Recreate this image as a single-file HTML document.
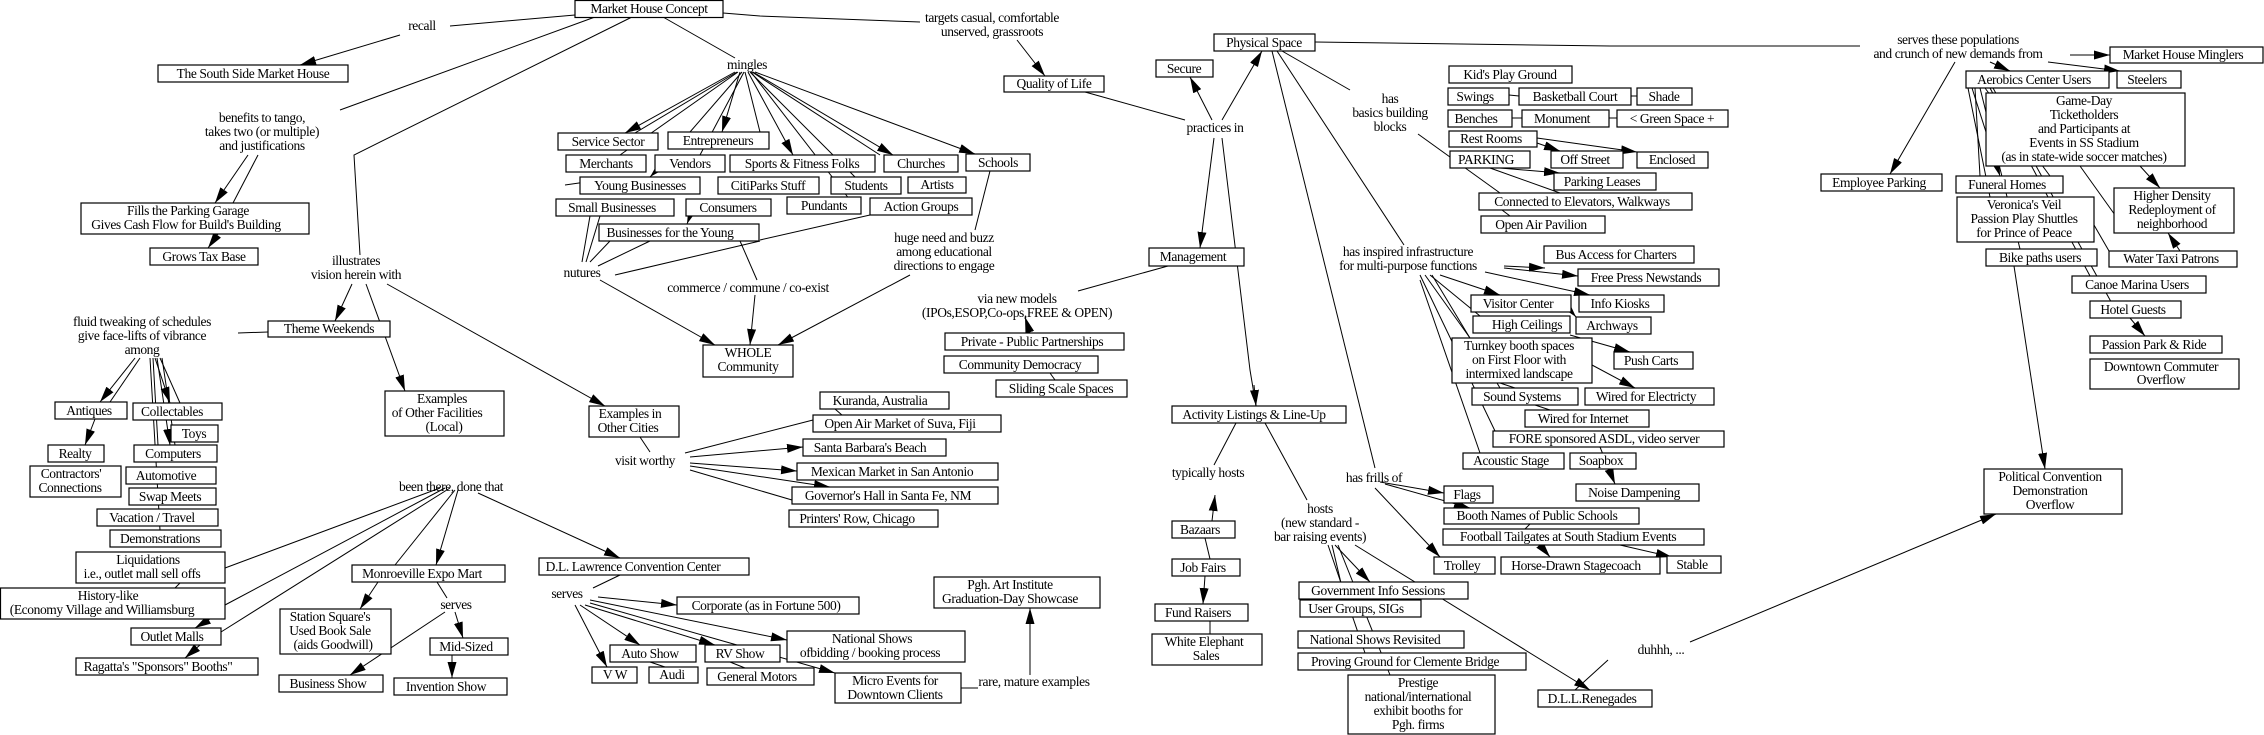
<!DOCTYPE html>
<html><head><meta charset="utf-8"><style>
html,body{margin:0;padding:0;background:#fff;}
svg{display:block;}
rect{fill:#fff;stroke:#000;stroke-width:1.2;}
line,polyline{stroke:#000;stroke-width:1;fill:none;}
text{font-family:"Liberation Serif",serif;font-size:13.5px;fill:#000;text-anchor:middle;letter-spacing:-0.4px;}
</style></head><body>
<svg width="2264" height="735" viewBox="0 0 2264 735" xmlns="http://www.w3.org/2000/svg">
<defs><marker id="a" markerWidth="16" markerHeight="9" refX="16" refY="4.5" orient="auto" markerUnits="userSpaceOnUse"><path d="M0,0L16,4.5L0,9z" fill="#000"/></marker></defs>

<!-- ===== EDGES ===== -->
<g>
<line x1="575" y1="15" x2="450" y2="26"/>
<line x1="400" y1="35" x2="300" y2="65" marker-end="url(#a)"/>
<line x1="595" y1="17" x2="340" y2="110"/>
<line x1="248" y1="155" x2="215" y2="203" marker-end="url(#a)"/>
<line x1="258" y1="155" x2="233" y2="203"/>
<line x1="218" y1="234" x2="208" y2="248" marker-end="url(#a)"/>
<polyline points="632,17 354,155 360,255"/>
<line x1="352" y1="284" x2="335" y2="321" marker-end="url(#a)"/>
<line x1="366" y1="284" x2="405" y2="391" marker-end="url(#a)"/>
<line x1="387" y1="284" x2="605" y2="406" marker-end="url(#a)"/>
<line x1="268" y1="332" x2="238" y2="333"/>
<line x1="135" y1="358" x2="100" y2="402" marker-end="url(#a)"/>
<line x1="140" y1="358" x2="110" y2="402"/>
<line x1="155" y1="358" x2="170" y2="403" marker-end="url(#a)"/>
<line x1="160" y1="358" x2="180" y2="403"/>
<line x1="153" y1="358" x2="158" y2="445"/>
<line x1="157" y1="358" x2="170" y2="445" marker-end="url(#a)"/>
<line x1="162" y1="358" x2="175" y2="445"/>
<line x1="150" y1="358" x2="160" y2="530"/>
<line x1="95" y1="419" x2="85" y2="445" marker-end="url(#a)"/>
<line x1="663" y1="17" x2="735" y2="58"/>
<line x1="735" y1="72" x2="625" y2="133" marker-end="url(#a)"/>
<line x1="737" y1="72" x2="635" y2="133"/>
<line x1="738" y1="72" x2="620" y2="155"/>
<line x1="740" y1="72" x2="722" y2="132" marker-end="url(#a)"/>
<line x1="742" y1="72" x2="690" y2="132"/>
<line x1="745" y1="72" x2="760" y2="132"/>
<line x1="748" y1="72" x2="793" y2="155" marker-end="url(#a)"/>
<line x1="750" y1="72" x2="855" y2="177"/>
<line x1="752" y1="72" x2="880" y2="155"/>
<line x1="753" y1="72" x2="893" y2="155" marker-end="url(#a)"/>
<line x1="755" y1="72" x2="975" y2="154" marker-end="url(#a)"/>
<line x1="751" y1="72" x2="850" y2="200"/>
<line x1="744" y1="72" x2="700" y2="155"/>
<line x1="600" y1="180" x2="565" y2="185"/>
<line x1="655" y1="172" x2="650" y2="177" marker-end="url(#a)"/>
<line x1="690" y1="216" x2="687" y2="224" marker-end="url(#a)"/>
<line x1="590" y1="216" x2="582" y2="262"/>
<line x1="600" y1="216" x2="586" y2="262"/>
<line x1="610" y1="241" x2="590" y2="262"/>
<line x1="650" y1="241" x2="598" y2="266"/>
<line x1="760" y1="241" x2="615" y2="275"/>
<line x1="870" y1="215" x2="760" y2="240"/>
<line x1="600" y1="280" x2="715" y2="345" marker-end="url(#a)"/>
<line x1="740" y1="241" x2="757" y2="280"/>
<line x1="755" y1="295" x2="750" y2="345" marker-end="url(#a)"/>
<line x1="990" y1="171" x2="975" y2="230"/>
<line x1="910" y1="275" x2="778" y2="345" marker-end="url(#a)"/>
<polyline points="723,13 760,16 920,22"/>
<line x1="1017" y1="40" x2="1045" y2="76" marker-end="url(#a)"/>
<line x1="1085" y1="92" x2="1185" y2="120"/>
<line x1="1212" y1="120" x2="1190" y2="77" marker-end="url(#a)"/>
<line x1="1222" y1="120" x2="1262" y2="51" marker-end="url(#a)"/>
<line x1="1214" y1="138" x2="1200" y2="248" marker-end="url(#a)"/>
<polyline points="1222,138 1250,370 1256,406"/>
<line x1="1254" y1="385" x2="1256" y2="406" marker-end="url(#a)"/>
<line x1="1168" y1="266" x2="1078" y2="291"/>
<line x1="1030" y1="333" x2="1025" y2="317" marker-end="url(#a)"/>
<line x1="1050" y1="373" x2="1055" y2="380"/>
<polyline points="1315,42 1610,46 1860,46"/>
<line x1="1282" y1="51" x2="1350" y2="90"/>
<line x1="1272" y1="51" x2="1375" y2="468"/>
<line x1="1277" y1="51" x2="1404" y2="245"/>
<line x1="1418" y1="134" x2="1500" y2="193"/>
<line x1="1490" y1="168" x2="1560" y2="193"/>
<line x1="1500" y1="168" x2="1560" y2="173" marker-end="url(#a)"/>
<line x1="1537" y1="138" x2="1637" y2="152" marker-end="url(#a)"/>
<line x1="1537" y1="143" x2="1560" y2="151" marker-end="url(#a)"/>
<line x1="1509" y1="95" x2="1519" y2="96"/>
<line x1="1512" y1="118" x2="1522" y2="118"/>
<line x1="1609" y1="118" x2="1617" y2="118"/>
<line x1="1631" y1="96" x2="1637" y2="96"/>
<line x1="1502" y1="210" x2="1510" y2="216"/>
<line x1="1504" y1="268" x2="1578" y2="276" marker-end="url(#a)"/>
<line x1="1504" y1="266" x2="1545" y2="268" marker-end="url(#a)"/>
<line x1="1485" y1="272" x2="1590" y2="295" marker-end="url(#a)"/>
<line x1="1440" y1="275" x2="1500" y2="295" marker-end="url(#a)"/>
<line x1="1430" y1="275" x2="1480" y2="316"/>
<line x1="1425" y1="275" x2="1470" y2="338"/>
<line x1="1570" y1="310" x2="1576" y2="317" marker-end="url(#a)"/>
<line x1="1570" y1="335" x2="1630" y2="352" marker-end="url(#a)"/>
<line x1="1592" y1="365" x2="1635" y2="388" marker-end="url(#a)"/>
<line x1="1432" y1="275" x2="1500" y2="388"/>
<line x1="1420" y1="275" x2="1495" y2="431"/>
<line x1="1420" y1="280" x2="1480" y2="453"/>
<line x1="1500" y1="383" x2="1515" y2="388"/>
<line x1="1535" y1="405" x2="1550" y2="410"/>
<line x1="1600" y1="447" x2="1615" y2="484" marker-end="url(#a)"/>
<line x1="1380" y1="482" x2="1444" y2="493" marker-end="url(#a)"/>
<line x1="1385" y1="484" x2="1470" y2="508" marker-end="url(#a)"/>
<line x1="1375" y1="488" x2="1440" y2="557" marker-end="url(#a)"/>
<line x1="1540" y1="545" x2="1550" y2="557" marker-end="url(#a)"/>
<line x1="1620" y1="545" x2="1672" y2="557" marker-end="url(#a)"/>
<line x1="1530" y1="524" x2="1525" y2="529"/>
<line x1="1236" y1="423" x2="1214" y2="465"/>
<line x1="1212" y1="521" x2="1215" y2="495" marker-end="url(#a)"/>
<line x1="1205" y1="538" x2="1210" y2="559"/>
<line x1="1205" y1="576" x2="1203" y2="604" marker-end="url(#a)"/>
<line x1="1210" y1="621" x2="1210" y2="634"/>
<line x1="1265" y1="423" x2="1307" y2="500"/>
<line x1="1335" y1="545" x2="1370" y2="582" marker-end="url(#a)"/>
<line x1="1332" y1="545" x2="1345" y2="600"/>
<line x1="1328" y1="545" x2="1365" y2="653"/>
<line x1="1338" y1="545" x2="1390" y2="675"/>
<line x1="1355" y1="545" x2="1590" y2="690" marker-end="url(#a)"/>
<line x1="1608" y1="660" x2="1575" y2="690"/>
<line x1="1690" y1="642" x2="1996" y2="514" marker-end="url(#a)"/>
<line x1="2014" y1="266" x2="2045" y2="469" marker-end="url(#a)"/>
<line x1="1955" y1="62" x2="1890" y2="174" marker-end="url(#a)"/>
<line x1="2070" y1="55" x2="2110" y2="55" marker-end="url(#a)"/>
<line x1="2048" y1="62" x2="2120" y2="71" marker-end="url(#a)"/>
<line x1="1990" y1="62" x2="2010" y2="71" marker-end="url(#a)"/>
<line x1="1975" y1="88" x2="1980" y2="176"/>
<line x1="1972" y1="88" x2="2000" y2="176" marker-end="url(#a)"/>
<line x1="1968" y1="88" x2="1990" y2="197"/>
<line x1="1980" y1="88" x2="2020" y2="249"/>
<line x1="1985" y1="88" x2="2050" y2="176"/>
<line x1="1990" y1="88" x2="2090" y2="276"/>
<line x1="1993" y1="88" x2="2120" y2="318"/>
<line x1="2140" y1="166" x2="2160" y2="188" marker-end="url(#a)"/>
<line x1="2080" y1="166" x2="2115" y2="215"/>
<line x1="2180" y1="251" x2="2168" y2="233" marker-end="url(#a)"/>
<line x1="2130" y1="318" x2="2145" y2="336" marker-end="url(#a)"/>
<line x1="2094" y1="225" x2="2109" y2="251"/>
<line x1="440" y1="488" x2="225" y2="568"/>
<line x1="445" y1="488" x2="225" y2="605"/>
<line x1="450" y1="488" x2="221" y2="632"/>
<line x1="455" y1="490" x2="395" y2="565"/>
<line x1="458" y1="490" x2="436" y2="565" marker-end="url(#a)"/>
<line x1="478" y1="493" x2="620" y2="558" marker-end="url(#a)"/>
<line x1="180" y1="583" x2="175" y2="588"/>
<line x1="210" y1="619" x2="195" y2="628" marker-end="url(#a)"/>
<line x1="200" y1="645" x2="185" y2="658" marker-end="url(#a)"/>
<line x1="378" y1="582" x2="360" y2="609" marker-end="url(#a)"/>
<line x1="437" y1="582" x2="447" y2="598"/>
<line x1="445" y1="612" x2="350" y2="675" marker-end="url(#a)"/>
<line x1="455" y1="612" x2="463" y2="638" marker-end="url(#a)"/>
<line x1="452" y1="655" x2="452" y2="678" marker-end="url(#a)"/>
<line x1="620" y1="575" x2="593" y2="588"/>
<line x1="598" y1="597" x2="677" y2="605" marker-end="url(#a)"/>
<line x1="590" y1="600" x2="787" y2="640" marker-end="url(#a)"/>
<line x1="590" y1="603" x2="835" y2="673" marker-end="url(#a)"/>
<line x1="580" y1="605" x2="640" y2="645" marker-end="url(#a)"/>
<line x1="585" y1="605" x2="715" y2="645" marker-end="url(#a)"/>
<line x1="575" y1="605" x2="607" y2="667" marker-end="url(#a)"/>
<line x1="650" y1="662" x2="665" y2="667"/>
<line x1="730" y1="662" x2="745" y2="668"/>
<line x1="961" y1="688" x2="978" y2="688"/>
<line x1="1030" y1="675" x2="1030" y2="608" marker-end="url(#a)"/>
<line x1="640" y1="437" x2="650" y2="452"/>
<line x1="685" y1="453" x2="813" y2="420"/>
<line x1="690" y1="457" x2="803" y2="447" marker-end="url(#a)"/>
<line x1="690" y1="463" x2="797" y2="471" marker-end="url(#a)"/>
<line x1="690" y1="466" x2="830" y2="487" marker-end="url(#a)"/>
<line x1="690" y1="470" x2="792" y2="500"/>
<line x1="850" y1="422" x2="835" y2="409"/>
</g>

<!-- ===== LABELS ===== -->
<g>
<text x="422" y="30">recall</text>
<text x="262" y="122">benefits to tango,</text>
<text x="262" y="136">takes two (or multiple)</text>
<text x="262" y="150">and  justifications</text>
<text x="356" y="265">illustrates</text>
<text x="356" y="279">vision herein with</text>
<text x="142" y="326">fluid tweaking of schedules</text>
<text x="142" y="340">give face-lifts of vibrance</text>
<text x="142" y="354">among</text>
<text x="747" y="69">mingles</text>
<text x="582" y="277">nutures</text>
<text x="748" y="292">commerce / commune / co-exist</text>
<text x="944" y="242">huge need and buzz</text>
<text x="944" y="256">among  educational</text>
<text x="944" y="270">directions to engage</text>
<text x="992" y="22">targets casual, comfortable</text>
<text x="992" y="36">unserved, grassroots</text>
<text x="1215" y="132">practices in</text>
<text x="1017" y="303">via new models</text>
<text x="1017" y="317">(IPOs,ESOP,Co-ops,FREE &amp; OPEN)</text>
<text x="1390" y="103">has</text>
<text x="1390" y="117">basics building</text>
<text x="1390" y="131">blocks</text>
<text x="1408" y="256">has inspired infrastructure</text>
<text x="1408" y="270">for multi-purpose functions</text>
<text x="1958" y="44">serves  these populations</text>
<text x="1958" y="58">and crunch of new demands from</text>
<text x="1374" y="482">has frills of</text>
<text x="1208" y="477">typically hosts</text>
<text x="1320" y="513">hosts</text>
<text x="1320" y="527">(new standard -</text>
<text x="1320" y="541">bar raising events)</text>
<text x="1661" y="654">duhhh, ...</text>
<text x="645" y="465">visit worthy</text>
<text x="451" y="491">been there, done that</text>
<text x="456" y="609">serves</text>
<text x="567" y="598">serves</text>
<text x="1034" y="686">rare, mature examples</text>
</g>

<!-- ===== BOXES ===== -->
<g>
<rect x="575" y="0.5" width="148" height="17"/><text x="649" y="13">Market House Concept</text>
<rect x="158" y="65" width="190" height="17"/><text x="253" y="78">The South Side Market House</text>
<rect x="81" y="203" width="228" height="31"/><text x="188" y="215">Fills the Parking Garage</text><text x="186" y="229">Gives Cash Flow  for Build's Building</text>
<rect x="150" y="248" width="108" height="17"/><text x="204" y="261">Grows Tax Base</text>
<rect x="268" y="321" width="122" height="16"/><text x="329" y="333">Theme   Weekends</text>
<rect x="558" y="133" width="100" height="17"/><text x="608" y="146">Service  Sector</text>
<rect x="668" y="132" width="101" height="17"/><text x="718" y="145">Entrepreneurs</text>
<rect x="566" y="155" width="80" height="17"/><text x="606" y="168">Merchants</text>
<rect x="655" y="155" width="70" height="17"/><text x="690" y="168">Vendors</text>
<rect x="730" y="155" width="145" height="17"/><text x="802" y="168">Sports &amp; Fitness Folks</text>
<rect x="884" y="155" width="74" height="17"/><text x="921" y="168">Churches</text>
<rect x="966" y="154" width="64" height="17"/><text x="998" y="167">Schools</text>
<rect x="580" y="177" width="120" height="17"/><text x="640" y="190">Young  Businesses</text>
<rect x="718" y="177" width="101" height="17"/><text x="768" y="190">CitiParks Stuff</text>
<rect x="831" y="177" width="70" height="17"/><text x="866" y="190">Students</text>
<rect x="908" y="177" width="58" height="16"/><text x="937" y="189">Artists</text>
<rect x="556" y="199" width="118" height="17"/><text x="612" y="212">Small  Businesses</text>
<rect x="686" y="199" width="85" height="17"/><text x="728" y="212">Consumers</text>
<rect x="787" y="197" width="74" height="17"/><text x="824" y="210">Pundants</text>
<rect x="870" y="198" width="102" height="17"/><text x="921" y="211">Action Groups</text>
<rect x="599" y="224" width="160" height="17"/><text x="670" y="237">Businesses  for the Young</text>
<rect x="703" y="345" width="90" height="32"/><text x="748" y="357">WHOLE</text><text x="748" y="371">Community</text>
<rect x="1004" y="76" width="100" height="16"/><text x="1054" y="88">Quality of Life</text>
<rect x="1214" y="34" width="101" height="17"/><text x="1264" y="47">Physical Space</text>
<rect x="1156" y="60" width="57" height="17"/><text x="1184" y="73">Secure</text>
<rect x="1149" y="248" width="95" height="18"/><text x="1193" y="261">Management</text>
<rect x="945" y="333" width="179" height="17"/><text x="1032" y="346">Private - Public Partnerships</text>
<rect x="944" y="356" width="154" height="17"/><text x="1020" y="369">Community  Democracy</text>
<rect x="996" y="380" width="131" height="17"/><text x="1061" y="393">Sliding Scale Spaces</text>
<rect x="1449" y="66" width="123" height="17"/><text x="1510" y="79">Kid's Play Ground</text>
<rect x="1448" y="88" width="61" height="17"/><text x="1475" y="101">Swings</text>
<rect x="1519" y="88" width="112" height="17"/><text x="1575" y="101">Basketball Court</text>
<rect x="1637" y="88" width="55" height="17"/><text x="1664" y="101">Shade</text>
<rect x="1448" y="110" width="64" height="17"/><text x="1476" y="123">Benches</text>
<rect x="1522" y="110" width="87" height="17"/><text x="1562" y="123">Monument</text>
<rect x="1617" y="110" width="111" height="17"/><text x="1672" y="123">&lt; Green Space +</text>
<rect x="1449" y="131" width="88" height="16"/><text x="1491" y="143">Rest  Rooms</text>
<rect x="1450" y="151" width="80" height="17"/><text x="1486" y="164">PARKING</text>
<rect x="1551" y="151" width="72" height="17"/><text x="1585" y="164">Off Street</text>
<rect x="1637" y="152" width="71" height="16"/><text x="1672" y="164">Enclosed</text>
<rect x="1554" y="173" width="102" height="17"/><text x="1602" y="186">Parking Leases</text>
<rect x="1479" y="193" width="213" height="17"/><text x="1582" y="206">Connected to Elevators, Walkways</text>
<rect x="1481" y="216" width="124" height="17"/><text x="1541" y="229">Open Air Pavilion</text>
<rect x="1544" y="246" width="150" height="17"/><text x="1616" y="259">Bus Access for Charters</text>
<rect x="1578" y="269" width="141" height="17"/><text x="1646" y="282">Free Press Newstands</text>
<rect x="1471" y="295" width="100" height="17"/><text x="1518" y="308">Visitor  Center</text>
<rect x="1579" y="295" width="85" height="17"/><text x="1620" y="308">Info Kiosks</text>
<rect x="1473" y="316" width="97" height="17"/><text x="1527" y="329">High Ceilings</text>
<rect x="1576" y="317" width="75" height="17"/><text x="1612" y="330">Archways</text>
<rect x="1452" y="338" width="140" height="45"/><text x="1519" y="350">Turnkey booth spaces</text><text x="1519" y="364">on First Floor with</text><text x="1519" y="378">intermixed  landscape</text>
<rect x="1614" y="352" width="79" height="17"/><text x="1651" y="365">Push Carts</text>
<rect x="1472" y="388" width="106" height="17"/><text x="1522" y="401">Sound  Systems</text>
<rect x="1585" y="388" width="129" height="17"/><text x="1646" y="401">Wired for Electricty</text>
<rect x="1525" y="410" width="124" height="17"/><text x="1583" y="423">Wired  for Internet</text>
<rect x="1493" y="431" width="231" height="16"/><text x="1604" y="443">FORE sponsored ASDL, video server</text>
<rect x="1463" y="453" width="101" height="16"/><text x="1511" y="465">Acoustic Stage</text>
<rect x="1570" y="453" width="66" height="16"/><text x="1601" y="465">Soapbox</text>
<rect x="1576" y="484" width="123" height="17"/><text x="1634" y="497">Noise  Dampening</text>
<rect x="1444" y="486" width="49" height="17"/><text x="1467" y="499">Flags</text>
<rect x="1444" y="508" width="195" height="16"/><text x="1537" y="520">Booth Names of Public Schools</text>
<rect x="1443" y="529" width="261" height="16"/><text x="1568" y="541">Football Tailgates at South Stadium Events</text>
<rect x="1434" y="557" width="61" height="17"/><text x="1462" y="570">Trolley</text>
<rect x="1501" y="557" width="159" height="17"/><text x="1576" y="570">Horse-Drawn Stagecoach</text>
<rect x="1667" y="556" width="54" height="17"/><text x="1692" y="569">Stable</text>
<rect x="1538" y="690" width="114" height="17"/><text x="1592" y="703">D.L.L.Renegades</text>
<rect x="1984" y="469" width="138" height="45"/><text x="2050" y="481">Political  Convention</text><text x="2050" y="495">Demonstration</text><text x="2050" y="509">Overflow</text>
<rect x="2110" y="47" width="153" height="16"/><text x="2183" y="59">Market House Minglers</text>
<rect x="2117" y="71" width="64" height="17"/><text x="2147" y="84">Steelers</text>
<rect x="1966" y="71" width="143" height="17"/><text x="2034" y="84">Aerobics Center Users</text>
<rect x="1986" y="93" width="199" height="73"/><text x="2084" y="105">Game-Day</text><text x="2084" y="119">Ticketholders</text><text x="2084" y="133">and Participants at</text><text x="2084" y="147">Events  in SS Stadium</text><text x="2084" y="161">(as in state-wide soccer matches)</text>
<rect x="1821" y="174" width="121" height="17"/><text x="1879" y="187">Employee Parking</text>
<rect x="1956" y="176" width="107" height="17"/><text x="2007" y="189">Funeral  Homes</text>
<rect x="1957" y="197" width="137" height="45"/><text x="2024" y="209">Veronica's    Veil</text><text x="2024" y="223">Passion Play Shuttles</text><text x="2024" y="237">for Prince of Peace</text>
<rect x="2114" y="188" width="120" height="45"/><text x="2172" y="200">Higher Density</text><text x="2172" y="214">Redeployment of</text><text x="2172" y="228">neighborhood</text>
<rect x="1986" y="249" width="111" height="17"/><text x="2040" y="262">Bike paths users</text>
<rect x="2109" y="251" width="128" height="16"/><text x="2171" y="263">Water Taxi Patrons</text>
<rect x="2072" y="276" width="134" height="17"/><text x="2137" y="289">Canoe Marina Users</text>
<rect x="2090" y="301" width="91" height="17"/><text x="2133" y="314">Hotel Guests</text>
<rect x="2090" y="336" width="132" height="17"/><text x="2154" y="349">Passion Park &amp; Ride</text>
<rect x="2090" y="359" width="149" height="30"/><text x="2161" y="371">Downtown  Commuter</text><text x="2161" y="384">Overflow</text>
<rect x="820" y="392" width="129" height="17"/><text x="880" y="405">Kuranda,  Australia</text>
<rect x="813" y="415" width="188" height="17"/><text x="900" y="428">Open Air Market of Suva, Fiji</text>
<rect x="803" y="439" width="143" height="17"/><text x="870" y="452">Santa Barbara's Beach</text>
<rect x="797" y="463" width="201" height="17"/><text x="892" y="476">Mexican Market in San Antonio</text>
<rect x="792" y="487" width="206" height="17"/><text x="888" y="500">Governor's Hall in Santa Fe, NM</text>
<rect x="789" y="510" width="149" height="17"/><text x="857" y="523">Printers' Row, Chicago</text>
<rect x="1172" y="406" width="174" height="17"/><text x="1254" y="419">Activity Listings &amp; Line-Up</text>
<rect x="1172" y="521" width="63" height="17"/><text x="1200" y="534">Bazaars</text>
<rect x="1172" y="559" width="68" height="17"/><text x="1203" y="572">Job Fairs</text>
<rect x="1155" y="604" width="93" height="17"/><text x="1198" y="617">Fund  Raisers</text>
<rect x="1152" y="634" width="110" height="31"/><text x="1204" y="646">White   Elephant</text><text x="1206" y="660">Sales</text>
<rect x="1299" y="582" width="169" height="17"/><text x="1378" y="595">Government  Info  Sessions</text>
<rect x="1300" y="600" width="121" height="17"/><text x="1356" y="613">User Groups, SIGs</text>
<rect x="1298" y="631" width="166" height="17"/><text x="1375" y="644">National  Shows  Revisited</text>
<rect x="1298" y="653" width="228" height="17"/><text x="1405" y="666">Proving Ground  for Clemente Bridge</text>
<rect x="1348" y="675" width="147" height="59"/><text x="1418" y="687">Prestige</text><text x="1418" y="701">national/international</text><text x="1418" y="715">exhibit booths for</text><text x="1418" y="729">Pgh. firms</text>
<rect x="934" y="577" width="166" height="31"/><text x="1010" y="589">Pgh. Art Institute</text><text x="1010" y="603">Graduation-Day  Showcase</text>
<rect x="787" y="631" width="178" height="31"/><text x="872" y="643">National  Shows</text><text x="870" y="657">ofbidding / booking process</text>
<rect x="835" y="673" width="126" height="30"/><text x="895" y="685">Micro Events for</text><text x="895" y="699">Downtown Clients</text>
<rect x="677" y="597" width="182" height="17"/><text x="766" y="610">Corporate (as in Fortune 500)</text>
<rect x="55" y="402" width="72" height="17"/><text x="89" y="415">Antiques</text>
<rect x="133" y="403" width="89" height="17"/><text x="172" y="416">Collectables</text>
<rect x="171" y="425" width="47" height="17"/><text x="194" y="438">Toys</text>
<rect x="48" y="445" width="56" height="17"/><text x="75" y="458">Realty</text>
<rect x="134" y="445" width="83" height="17"/><text x="173" y="458">Computers</text>
<rect x="30" y="466" width="91" height="31"/><text x="71" y="478">Contractors'</text><text x="70" y="492">Connections</text>
<rect x="126" y="467" width="90" height="17"/><text x="166" y="480">Automotive</text>
<rect x="129" y="488" width="87" height="17"/><text x="170" y="501">Swap Meets</text>
<rect x="97" y="509" width="121" height="17"/><text x="152" y="522">Vacation /  Travel</text>
<rect x="110" y="530" width="111" height="17"/><text x="160" y="543">Demonstrations</text>
<rect x="76" y="552" width="149" height="31"/><text x="148" y="564">Liquidations</text><text x="142" y="578">i.e., outlet mall sell offs</text>
<rect x="0.5" y="588" width="224.5" height="31"/><text x="108" y="600">History-like</text><text x="102" y="614">(Economy  Village  and  Williamsburg</text>
<rect x="131" y="628" width="90" height="17"/><text x="172" y="641">Outlet Malls</text>
<rect x="76" y="658" width="182" height="17"/><text x="158" y="671">Ragatta's  "Sponsors"  Booths"</text>
<rect x="385" y="391" width="119" height="45"/><text x="442" y="403">Examples</text><text x="437" y="417">of Other Facilities</text><text x="444" y="431">(Local)</text>
<rect x="589" y="406" width="90" height="31"/><text x="630" y="418">Examples in</text><text x="628" y="432">Other Cities</text>
<rect x="352" y="565" width="153" height="17"/><text x="422" y="578">Monroeville  Expo  Mart</text>
<rect x="280" y="609" width="111" height="45"/><text x="330" y="621">Station  Square's</text><text x="330" y="635">Used Book Sale</text><text x="333" y="649">(aids Goodwill)</text>
<rect x="430" y="638" width="78" height="17"/><text x="466" y="651">Mid-Sized</text>
<rect x="279" y="675" width="104" height="17"/><text x="328" y="688">Business  Show</text>
<rect x="394" y="678" width="113" height="17"/><text x="446" y="691">Invention  Show</text>
<rect x="539" y="558" width="210" height="17"/><text x="633" y="571">D.L. Lawrence Convention Center</text>
<rect x="610" y="645" width="86" height="17"/><text x="650" y="658">Auto  Show</text>
<rect x="705" y="645" width="75" height="17"/><text x="740" y="658">RV Show</text>
<rect x="592" y="667" width="45" height="16"/><text x="615" y="679">V W</text>
<rect x="649" y="667" width="49" height="16"/><text x="672" y="679">Audi</text>
<rect x="707" y="668" width="107" height="17"/><text x="757" y="681">General Motors</text>
</g>
</svg>
</body></html>
